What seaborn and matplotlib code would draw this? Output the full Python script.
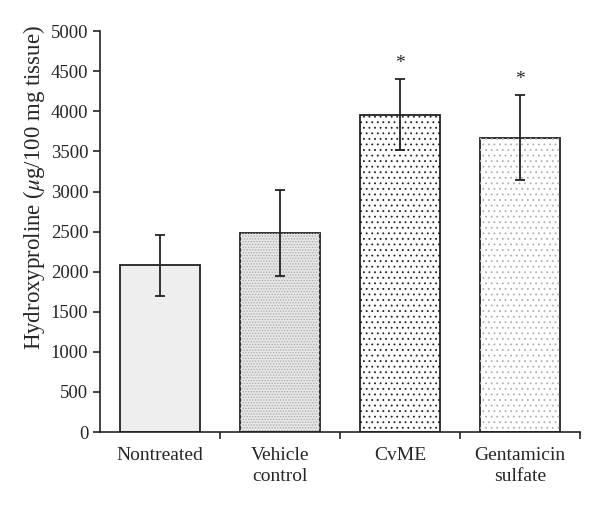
import pandas as pd
import seaborn as sns
import matplotlib.pyplot as plt
from matplotlib.patches import Rectangle

groups = ['Nontreated', 'Vehicle\ncontrol', 'CvME', 'Gentamicin\nsulfate']
means = [2080, 2480, 3960, 3670]
errs = [380, 540, 440, 530]
signif = ['', '', '*', '*']

sns.set_style('ticks')
plt.rcParams['font.family'] = ['Liberation Serif', 'DejaVu Serif']
plt.rcParams['mathtext.fontset'] = 'stix'
plt.rcParams['hatch.linewidth'] = 0.6

df = pd.DataFrame({'group': groups, 'mean': means})

fig = plt.figure(figsize=(6, 5.08), dpi=100)
ax = fig.add_axes([0.1667, 0.1496, 0.8, 0.789])

sns.barplot(data=df, x='group', y='mean', ax=ax, width=0.66,
            color='white', edgecolor='#222222', linewidth=1.3,
            errorbar=None, zorder=2)

# fill textures: face colour, dot hatch, hatch colour
looks = [('#eeeeee', None, None),
         ('#e6e6e6', '......', '#a8a8a8'),
         ('white', '...', '#222222'),
         ('white', '...', '#b0b0b0')]
for p, (fc, h, hc) in zip(ax.patches, looks):
    p.set_facecolor(fc)
    if h:
        ax.add_patch(Rectangle(p.get_xy(), p.get_width(), p.get_height(),
                               fill=False, hatch=h, edgecolor=hc,
                               linewidth=0, zorder=2.5))

ax.errorbar(range(len(groups)), means, yerr=errs, fmt='none',
            ecolor='#222222', elinewidth=1.3, capsize=3.5, capthick=1.3, zorder=3)
for i, s in enumerate(signif):
    if s:
        ax.text(i, means[i] + errs[i] + 90, s, ha='center', va='bottom', fontsize=14)

ax.set_xlim(-0.5, 3.5)
ax.set_ylim(0, 5000)
ax.set_yticks(range(0, 5001, 500))
ax.set_xticks([0.5, 1.5, 2.5, 3.5], minor=True)
ax.set_xticks(range(len(groups)))
ax.set_xticklabels(groups, linespacing=1.25)
ax.tick_params(axis='x', which='major', length=0, pad=11, labelsize=14)
ax.tick_params(axis='x', which='minor', length=5, width=1.2, direction='out')
ax.tick_params(axis='y', length=5, width=1.2, labelsize=13.5)
ax.set_xlabel('')
ax.set_ylabel('Hydroxyproline ($\\mu$g/100 mg tissue)', fontsize=16.5, labelpad=2)
ax.yaxis.set_label_coords(-0.11, 0.61)
sns.despine(ax=ax)
for s in ['left', 'bottom']:
    ax.spines[s].set_linewidth(1.2)
    ax.spines[s].set_color('#222222')

fig.savefig('out.png', dpi=100)
